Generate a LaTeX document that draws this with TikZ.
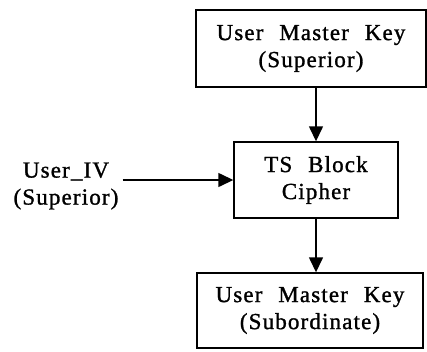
\documentclass[tikz,border=0pt]{standalone}
\usepackage{fontspec}
\setmainfont{Liberation Serif}[LetterSpace=5,WordSpace=2.3,FakeBold=1.2]
\usetikzlibrary{arrows.meta}
\begin{document}
\begin{tikzpicture}[x=1pt,y=-1pt,
  lbl/.style={font=\fontsize{23}{27}\selectfont, align=center, inner sep=0pt},
  keybox/.style={lbl, draw, line width=1.4pt, rectangle},
  flow/.style={draw, line width=1.4pt, -{Triangle[length=15pt,width=14pt]}}]
  \useasboundingbox (0,0) rectangle (427,351);
  \node[keybox, minimum width=230pt, minimum height=77pt] (top) at (311,48.5)
    {User Master Key\\(Superior)};
  \node[keybox, minimum width=164pt, minimum height=76pt] (mid) at (316,180)
    {TS Block\\Cipher};
  \node[keybox, minimum width=226pt, minimum height=75pt] (bot) at (310,310.5)
    {User Master Key\\(Subordinate)};
  \node[lbl] (iv) at (66,186) {User\_IV\\(Superior)};
  \draw[flow] (iv.east |- mid.west) ++(4,0) -- (mid.west);
  \draw[flow] (top.south -| mid.north) -- (mid.north);
  \draw[flow] (mid.south) -- (bot.north -| mid.south);
\end{tikzpicture}
\end{document}
